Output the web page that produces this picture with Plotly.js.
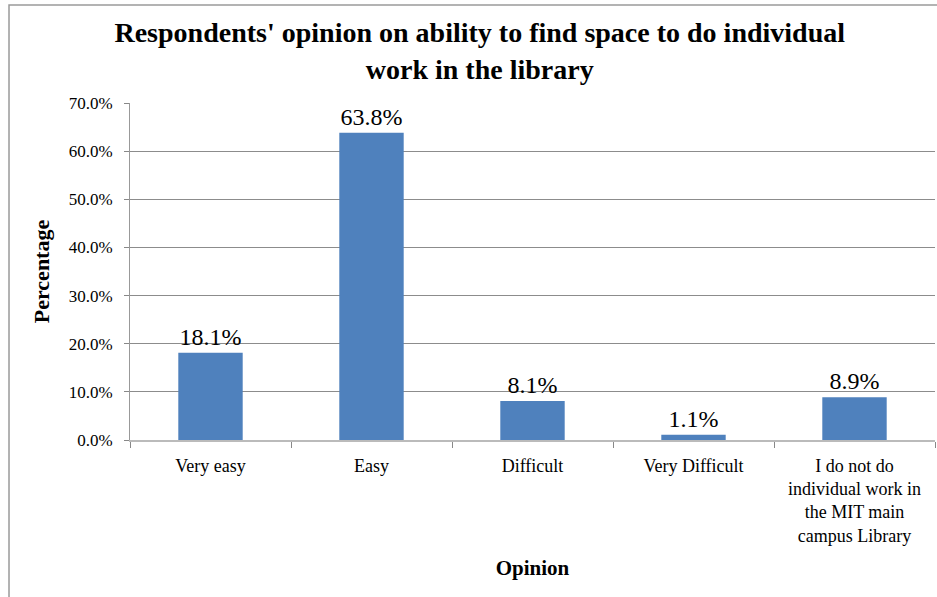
<!DOCTYPE html>
<html>
<head>
<meta charset="utf-8">
<script src="https://cdn.plot.ly/plotly-3.0.1.min.js"></script>
<style>html,body{margin:0;padding:0;background:#fff;overflow:hidden;}</style>
</head>
<body>
<div id="chart" style="width:937px;height:597px;"></div>
<script>
var categories = ["Very easy", "Easy", "Difficult", "Very Difficult", "I do not do<br>individual work in<br>the MIT main<br>campus Library"];
var values = [18.1, 63.8, 8.1, 1.1, 8.9];
var valueLabels = ["18.1%", "63.8%", "8.1%", "1.1%", "8.9%"];
var yTickVals = [0, 10, 20, 30, 40, 50, 60, 70];
var yTickText = ["0.0%", "10.0%", "20.0%", "30.0%", "40.0%", "50.0%", "60.0%", "70.0%"];

var serif = "Liberation Serif, Times New Roman, serif";

var trace = {
  type: "bar",
  x: categories,
  y: values,
  text: valueLabels,
  textposition: "outside",
  textfont: {family: serif, size: 24, color: "#000"},
  cliponaxis: false,
  marker: {color: "#4F81BD"},
  width: 0.4,
  hoverinfo: "none"
};

var layout = {
  width: 937,
  height: 597,
  margin: {l: 130, r: 2, t: 103, b: 157},
  paper_bgcolor: "#fff",
  plot_bgcolor: "#fff",
  showlegend: false,
  font: {family: serif},
  title: {
    text: "<b>Respondents' opinion on ability to find space to do individual<br>work in the library</b>",
    font: {family: serif, size: 28, color: "#000"},
    x: 0.512, xanchor: "center",
    y: 0.929, yanchor: "top",
    yref: "container"
  },
  xaxis: {
    type: "category",
    tickfont: {family: serif, size: 18, color: "#000"},
    showline: true, linecolor: "#bbbbbb", linewidth: 2,
    ticks: "outside", tickson: "boundaries", ticklen: 6, tickcolor: "#888", tickwidth: 1,
    ticklabelstandoff: 8,
    showgrid: false,
    title: {text: "<b>Opinion</b>", font: {family: serif, size: 21, color: "#000"}, standoff: 16},
    automargin: false
  },
  yaxis: {
    range: [0, 70],
    tickvals: yTickVals,
    ticktext: yTickText,
    tickfont: {family: serif, size: 17, color: "#000"},
    showline: true, linecolor: "#999", linewidth: 1,
    ticks: "outside", ticklen: 5, tickcolor: "#888",
    ticklabelstandoff: 8,
    showgrid: true, gridcolor: "#8c8c8c", gridwidth: 1,
    zeroline: false,
    title: {text: "<b>Percentage</b>", font: {family: serif, size: 22, color: "#000"}, standoff: 12},
    automargin: false
  },
  shapes: [{
    type: "rect", xref: "paper", yref: "paper",
    x0: -0.1503, x1: 1.2, y0: -0.6, y1: 1.2908,
    line: {color: "#9a9a9a", width: 1.5}, fillcolor: "rgba(0,0,0,0)", layer: "below"
  }]
};

Plotly.newPlot("chart", [trace], layout, {staticPlot: true, displayModeBar: false});
</script>
</body>
</html>
